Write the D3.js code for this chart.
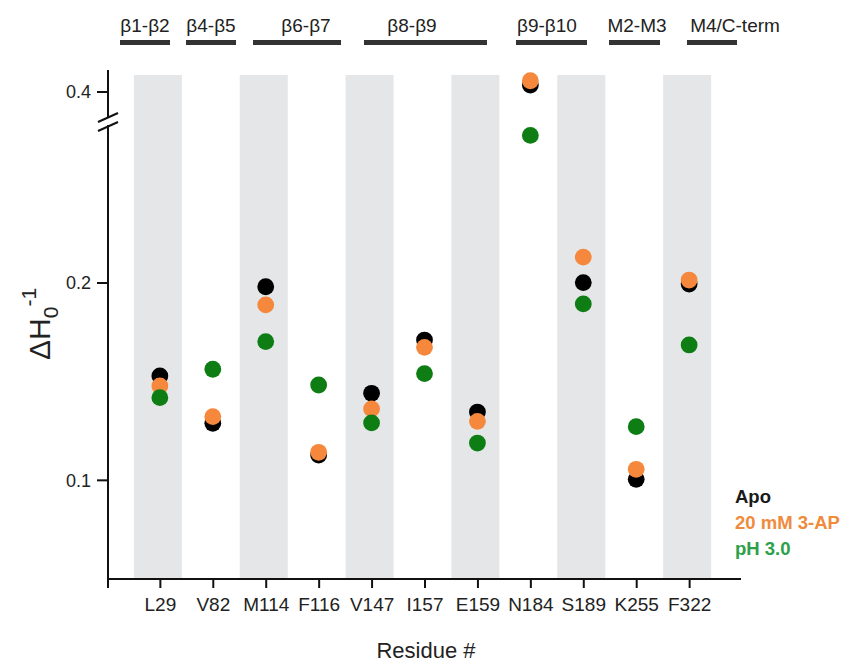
<!DOCTYPE html>
<html>
<head>
<meta charset="utf-8">
<script src="https://cdn.jsdelivr.net/npm/d3@7"></script>
<style>
  html, body { margin: 0; padding: 0; background: #fff; }
  svg { display: block; font-family: "Liberation Sans", Arial, sans-serif; }
</style>
</head>
<body>
<svg id="chart" width="849" height="665"></svg>
<script>
// ---- data ----
const residues = ["L29", "V82", "M114", "F116", "V147", "I157", "E159", "N184", "S189", "K255", "F322"];
const apo    = [0.1529, 0.1289, 0.1981, 0.1128, 0.1441, 0.1711, 0.1346, 0.4035, 0.2002, 0.1005, 0.1995];
const ap3    = [0.1478, 0.1323, 0.1889, 0.1142, 0.1362, 0.1674, 0.1299, 0.4057, 0.2131, 0.1056, 0.2015];
const ph3    = [0.1419, 0.1563, 0.1703, 0.1483, 0.1291, 0.1541, 0.1189, 0.3780, 0.1894, 0.1272, 0.1686];
const seriesNames = ["Apo", "20 mM 3-AP", "pH 3.0"];
const yTicksLow = [0.1, 0.2];
const yTicksHigh = [0.4];
const regionLabels = ["\u03b21-\u03b22", "\u03b24-\u03b25", "\u03b26-\u03b27", "\u03b28-\u03b29", "\u03b29-\u03b210", "M2-M3", "M4/C-term"];

// ---- layout (pixels) ----
const regionBars = [[120,170],[186,236],[253,341],[364,487],[516,587],[609,660],[687,737]];
const regionTextX = [145, 211, 306, 412, 547, 637, 735];
const axisX = 108, axisY = 579, axisTop = 70, xEnd = 741;
const ptColors = ["#000000", "#f5883c", "#0d7d14"];
const txtColors = ["#1a1a1a", "#f08a3c", "#2ca04a"];

const svg = d3.select("#chart");

const x = d3.scalePoint().domain(residues).range([axisX, xEnd]).padding(0.98);
const pxPerUnit = (axisY - 283) / 0.15;
const yLow = d3.scaleLinear().domain([0.05, 0.2]).range([axisY, 283]);
const yHigh = d3.scaleLinear().domain([0.4, 0.41]).range([92, 92 - 0.01 * pxPerUnit]);
const yy = v => v >= 0.3 ? yHigh(v) : yLow(v);

// grey bands
const bandW = 48;
svg.append("g").selectAll("rect")
  .data(residues.filter((d, i) => i % 2 === 0))
  .join("rect")
  .attr("x", d => x(d) - bandW / 2 - 2)
  .attr("y", 75)
  .attr("width", bandW)
  .attr("height", axisY - 75)
  .attr("fill", "#e4e6e7");

// points
const series = [apo, ap3, ph3];
series.forEach((vals, si) => {
  svg.append("g").selectAll("circle")
    .data(vals.map((v, i) => ({ r: residues[i], v })))
    .join("circle")
    .attr("cx", d => x(d.r))
    .attr("cy", d => yy(d.v))
    .attr("r", 8.4)
    .attr("fill", ptColors[si]);
});

// x axis
const xAxis = d3.axisBottom(x).tickSize(9).tickSizeOuter(0).tickPadding(10);
const gx = svg.append("g").attr("transform", `translate(0,${axisY})`).call(xAxis);
gx.select(".domain").remove();
gx.append("line").attr("x1", axisX).attr("x2", xEnd).attr("y1", 0).attr("y2", 0)
  .attr("stroke", "#111").attr("stroke-width", 2);
gx.append("line").attr("x1", axisX).attr("x2", axisX).attr("y1", 0).attr("y2", 9)
  .attr("stroke", "#111").attr("stroke-width", 2);
gx.selectAll(".tick line").attr("stroke", "#111").attr("stroke-width", 2);
gx.selectAll(".tick text").attr("font-size", 19).attr("fill", "#222")
  .attr("font-family", "Liberation Sans, Arial, sans-serif");

// y axis
const gy = svg.append("g");
gy.append("line").attr("x1", axisX).attr("x2", axisX).attr("y1", axisTop).attr("y2", axisY + 1)
  .attr("stroke", "#111").attr("stroke-width", 2);
const yTicks = yTicksLow.concat(yTicksHigh);
gy.selectAll("line.tk").data(yTicks).join("line").attr("class", "tk")
  .attr("x1", axisX - 11).attr("x2", axisX).attr("y1", d => yy(d)).attr("y2", d => yy(d))
  .attr("stroke", "#111").attr("stroke-width", 2);
gy.selectAll("text.tl").data(yTicks).join("text").attr("class", "tl")
  .attr("x", axisX - 17).attr("y", d => yy(d)).attr("dy", "0.35em")
  .attr("text-anchor", "end").attr("font-size", 18).attr("fill", "#222")
  .text(d => d3.format(".1f")(d));

// axis break
gy.append("rect").attr("x", axisX - 3).attr("y", 117).attr("width", 6).attr("height", 8).attr("fill", "#fff");
gy.append("line").attr("x1", 98).attr("y1", 122).attr("x2", 118).attr("y2", 113).attr("stroke", "#111").attr("stroke-width", 2);
gy.append("line").attr("x1", 98).attr("y1", 131).attr("x2", 118).attr("y2", 122).attr("stroke", "#111").attr("stroke-width", 2);

// y label
const yl = svg.append("text").attr("transform", "translate(50,360) rotate(-90)")
  .attr("font-size", 30).attr("fill", "#222");
yl.append("tspan").text("\u0394H");
yl.append("tspan").attr("font-size", 21).attr("dy", 8).text("0");
yl.append("tspan").attr("font-size", 21).attr("dy", -22).text("-1");

// x label
svg.append("text").attr("x", 426).attr("y", 658).attr("text-anchor", "middle")
  .attr("font-size", 22).attr("fill", "#222").text("Residue #");

// region annotations
const gr = svg.append("g");
gr.selectAll("rect").data(regionBars).join("rect")
  .attr("x", d => d[0]).attr("y", 40).attr("width", d => d[1] - d[0]).attr("height", 5)
  .attr("fill", "#333");
gr.selectAll("text").data(regionLabels).join("text")
  .attr("x", (d, i) => regionTextX[i]).attr("y", 32).attr("text-anchor", "middle")
  .attr("font-size", 19).attr("fill", "#222").text(d => d);

// legend
svg.append("g").selectAll("text").data(seriesNames).join("text")
  .attr("x", 735).attr("y", (d, i) => 503 + i * 26)
  .attr("font-size", 18.5).attr("font-weight", "bold")
  .attr("fill", (d, i) => txtColors[i]).text(d => d);
</script>
</body>
</html>
